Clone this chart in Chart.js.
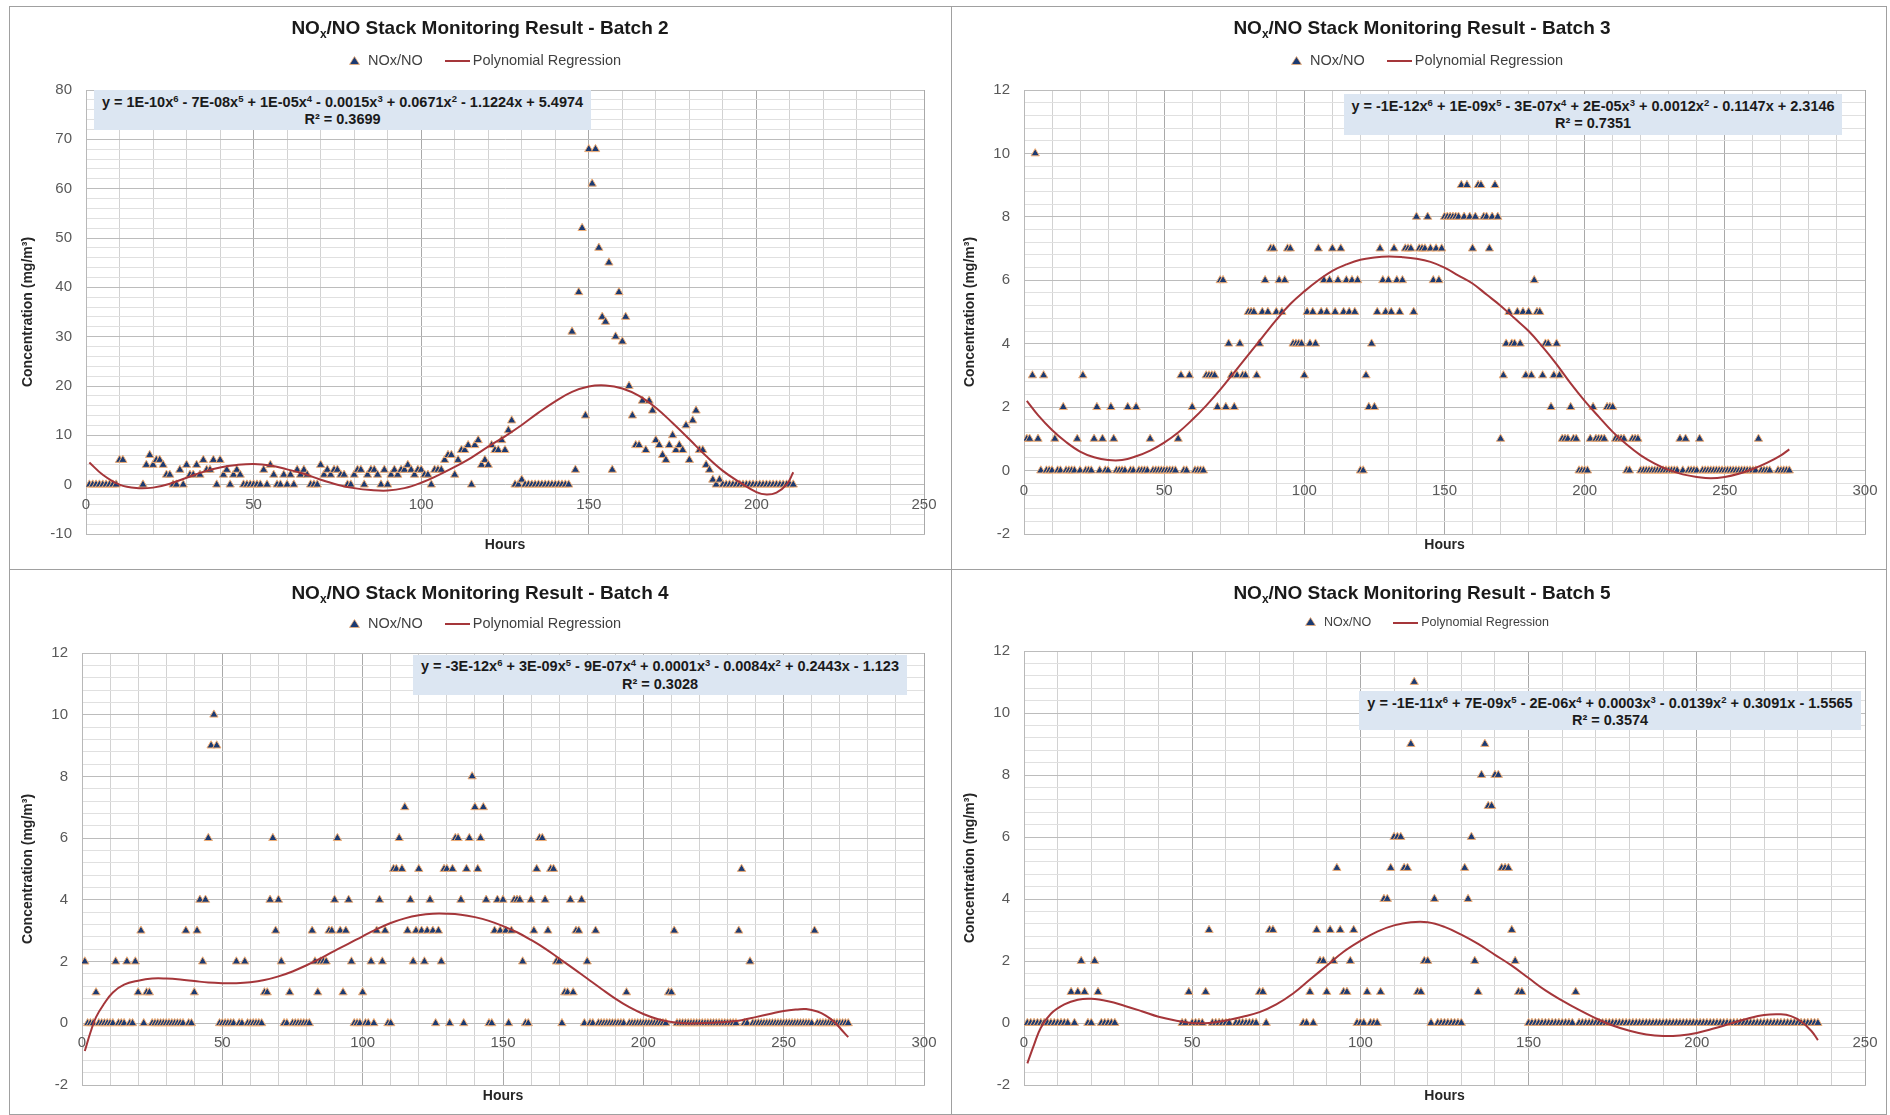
<!DOCTYPE html>
<html>
<head>
<meta charset="utf-8">
<script src="https://cdn.jsdelivr.net/npm/chart.js@4.4.1/dist/chart.umd.min.js"></script>
<style>
  body { margin: 0; background: #fff; width: 1890px; height: 1115px; overflow: hidden;
         font-family: "Liberation Sans", Arial, Helvetica, sans-serif; }
  .panel { position: absolute; outline: 1px solid #a0a0a0; outline-offset: -1px; }
  .panel canvas { position: absolute; left: 0; top: 0; }
  .ttl { position: absolute; left: 0; width: 942px; text-align: center; font-weight: bold;
         font-size: 19px; color: #1a1a1a; line-height: 22px; }
  .ttl sub { font-size: 12px; vertical-align: -4px; line-height: 0; }
  .leg { position: absolute; left: 0; width: 952px; text-align: center; color: #404040; white-space: nowrap; }
  .leg svg { vertical-align: 0px; margin-right: 8px; }
  .leg .ln { display: inline-block; width: 25px; height: 2px; background: #a5363a;
             vertical-align: middle; margin: 0 3px 0 22px; }
  .eq { position: absolute; background: #dce6f2; font-weight: bold; font-size: 14.5px; color: #1a1a1a;
        text-align: center; line-height: 17.5px; padding-top: 3.75px; box-sizing: border-box; white-space: nowrap; }
  .eq sup { font-size: 9.5px; vertical-align: 5px; line-height: 0; }
</style>
</head>
<body>
<script>
const NAVY = '#1b3a72';
const ORANGE = '#f0ae76';
const RED = '#a5363a';
const FONT = '"Liberation Sans", Arial, Helvetica, sans-serif';
Chart.defaults.font.family = FONT;

// hourly NOx/NO readings, index 0 = hour 1 (null = no reading)
const batch2Values = [
  0,0,0,0,0,0,0,0,0, 5,5, null,null,null,null,null, 0,
  4,6,4,5,5,4,2,2,0,0,3,0,
  4,2,2,4,2,5,3,3,5,0,5,2,
  3,0,2,3,2,0,0,0,0,0,0,3,
  0,4,2,0,0,2,0,2,0,3,2,3,
  2,0,0,0,4,2,3,2,3,3,2,2,
  0,0,2,3,3,0,2,3,3,2,0,3,
  0,2,3,2,3,3,4,3,2,3,
  3,2,2,0,3,3,3,5,6,6,2,5,7,7,8,0,8,9,4,5,4,8,7,7,9,7,11,13,
  0,0,1,0,0,0,0,0,0,0,0,0,0,0,0,0,0,
  31,3,39,52,14, 68,61,68,48,34, 33,45,3,30,39, 29,34,20,14,8,
  8,17,7,17,15, 9,8,6,5,8, 10,7,8,7,12, 5,13,15,7,7, 4,3,1,0,1,
  0,0,0,0,0,0,0,0,0,0,0,0,0,0,0,0,0,0,0,0,0,0
];
const batch3Values = [
  1,1,3,10,1,0,3,0,0,0,  1,0,0,2,0,0,0,0,1,0,  3,0,0,0,1,2,0,1,0,0,
  2,1,0,0,0,0,2,0,0,2,  0,0,0,0,1,0,0,0,0,0,  0,0,0,0,1,3,0,0,3,2,
  0,0,0,0,3,3,3,3,2,6,  6,2,4,3,2,3,4,3,3,5,  5,5,3,4,5,6,5,7,7,5,
  6,5,6,7,7,4,4,4,4,3,  5,4,5,4,7,5,6,5,6,7,  5,6,7,5,6,5,6,5,6,0,
  0,3,2,4,2,5,7,6,5,6,  5,7,6,5,6,7,7,7,5,8,  7,7,7,8,7,6,7,6,7,8,
  8,8,8,8,8,9,8,9,8,7,  8,9,9,8,8,7,8,9,8,1,  3,4,5,4,4,5,4,5,3,5,
  3,6,5,5,3,4,4,2,3,4,  3,1,1,1,2,1,1,0,0,0,  0,1,2,1,1,1,1,2,2,2,
  1,1,1,1,0,0,1,1,1,0,  0,0,0,0,0,0,0,0,0,0,  0,0,0,1,0,1,0,0,0,0,
  1,0,0,0,0,0,0,0,0,0,  0,0,0,0,0,0,0,0,0,0,  0,1,0,0,0,0,null,null,0,0,
  0,0,0
];
const batch4Values = [
  2,0,0,0,1,0,0,0,0,0,  0,2,0,0,0,2,0,0,2,1,  3,0,1,1,0,0,0,0,0,0,
  0,0,0,0,0,0,3,0,0,1,  3,4,2,4,6,9,10,9,0,0,  0,0,0,0,2,0,0,2,0,0,
  0,0,0,0,1,1,4,6,3,4,  2,0,0,1,0,0,0,0,0,0,  0,3,2,1,2,2,2,3,3,4,
  6,3,1,3,4,2,0,0,0,1,  0,0,2,0,3,4,2,3,0,0,  5,5,6,5,7,3,4,2,3,5,
  3,2,3,4,3,0,3,2,5,5,  0,5,6,6,4,0,5,6,8,7,  5,6,7,4,0,0,3,4,3,4,
  3,0,3,4,4,4,2,0,0,4,  3,5,6,6,4,3,5,5,2,2,  0,1,1,4,1,3,3,4,0,2,
  0,0,3,0,0,0,0,0,0,0,  0,0,0,1,0,0,0,0,0,0,  0,0,0,0,0,0,0,0,1,1,
  3,0,0,0,0,0,0,0,0,0,  0,0,0,0,0,0,0,0,0,0,  0,0,0,3,5,0,0,2,0,0,
  0,0,0,0,0,0,0,0,0,0,  0,0,0,0,0,0,0,0,0,0,  3,0,0,0,0,0,0,0,0,0,
  0,0,0
];
const batch5Values = [
  0,0,0,0,0,0,0,0,0,0,  0,0,0,1,0,1,2,1,0,0,  2,1,0,0,0,0,0,
  null,null,null,null,null,null,null,null,null,null,null,null,null,null,null,null,null,null,null,
  0,0,1,0,0,0,0,1,3,0,  0,0,0,0,0, null, 0,0,0,0,0,0,0,  1,1,0,3,3,
  null,null,null,null,null,null,null,null,
  0,0,1,0,3,2,2,1,3,2,  5,3,1,1,2,3,0,0,0,1,  0,0,0,1,4,4,5,6,6,6,
  5,5,9,11,1,1,2,2,0,4,  0,0,0,0,0,0,0,0,
  5,4,6,2,1,8,9,7,7,8,  8,5,5,5,3,2,1,1, null,
  0,0,0,0,0,0,0,0,0,0,0,0,0,0, 1,
  0,0,0,0,0,0,0,0,0,0,0,0,0,0,0,0,0,0,0,0,0,0,0,0,0,0,0,0,0,0,0,0,0,0,0,0,
  0,0,0,0,0,0,0,0,0,0,0,0,0,0,0,0,0,0,0,0,0,0,0,0,0,0,0,0,0,0,0,0,0,0,0,0
];

// 6th-order polynomial trend lines
const batch2FitHours  = [1,5,10,15,20,25,30,35,40,45,50,55,60,65,70,75,80,85,90,95,100,105,110,115,120,125,130,135,140,145,150,155,160,165,170,175,180,185,190,195,200,203,206,209,211];
const batch2FitValues = [4.5,2.0,0.0,-0.7,-0.6,0.2,1.4,2.6,3.5,4.0,4.2,3.9,3.1,2.2,1.0,0.0,-0.7,-1.1,-1.2,-0.7,0.4,1.9,3.6,5.5,7.7,9.8,12.1,14.6,16.9,18.8,19.9,20.1,19.5,18.0,15.6,12.5,9.2,5.8,2.8,0.5,-1.5,-2.0,-1.6,0.0,2.5];
const batch3FitHours  = [1,5,10,15,20,25,30,35,40,45,50,55,60,65,70,75,80,85,90,95,100,105,110,115,120,125,130,135,140,145,150,155,160,165,170,175,180,185,190,195,200,205,210,215,220,225,230,235,240,245,250,255,260,265,270,273];
const batch3FitValues = [2.2,1.75,1.28,0.9,0.6,0.42,0.33,0.33,0.45,0.63,0.88,1.2,1.6,2.05,2.55,3.1,3.65,4.2,4.75,5.25,5.65,6.0,6.3,6.5,6.65,6.72,6.75,6.73,6.68,6.58,6.4,6.15,5.9,5.55,5.2,4.8,4.4,3.9,3.35,2.75,2.2,1.7,1.22,0.82,0.48,0.22,0.02,-0.12,-0.2,-0.24,-0.2,-0.1,0.05,0.24,0.48,0.67];
const batch4FitHours  = [1,3,5,8,11,15,20,25,30,35,40,45,50,55,60,65,70,75,80,85,90,95,100,105,110,115,120,125,130,135,140,145,150,155,160,165,170,175,180,185,190,195,200,205,210,215,220,225,230,235,240,245,250,255,258,262,265,268,271,273];
const batch4FitValues = [-0.9,-0.3,0.2,0.65,1.0,1.25,1.38,1.45,1.45,1.42,1.37,1.32,1.3,1.3,1.33,1.4,1.52,1.68,1.88,2.1,2.35,2.58,2.82,3.05,3.25,3.4,3.5,3.55,3.55,3.52,3.44,3.32,3.15,2.95,2.7,2.42,2.1,1.78,1.45,1.12,0.8,0.52,0.3,0.14,0.04,0.0,0.0,0.02,0.05,0.1,0.2,0.3,0.4,0.45,0.46,0.38,0.25,0.05,-0.25,-0.45];
const batch5FitHours  = [1,3,5,8,12,16,20,25,30,35,40,45,50,55,60,65,70,75,80,85,90,95,100,105,110,115,120,125,130,135,140,145,150,155,160,165,170,175,180,185,190,195,200,205,210,215,220,225,228,231,234,236];
const batch5FitValues = [-1.3,-0.7,-0.15,0.3,0.6,0.75,0.78,0.7,0.55,0.38,0.2,0.08,0.0,0.0,0.08,0.2,0.35,0.6,0.95,1.4,1.85,2.3,2.65,2.95,3.15,3.25,3.25,3.1,2.85,2.55,2.2,1.85,1.45,1.05,0.72,0.42,0.15,-0.08,-0.25,-0.37,-0.42,-0.4,-0.32,-0.18,-0.02,0.14,0.26,0.28,0.22,0.05,-0.25,-0.55];

// axis ranges and tick labels
const batchNames  = ['Batch 2', 'Batch 3', 'Batch 4', 'Batch 5'];
const xMaxes      = [250, 300, 300, 250];
const yMins       = [-10, -2, -2, -2];
const yMaxes      = [80, 12, 12, 12];
const yMajorSteps = [10, 2, 2, 2];
const yMinorSteps = [2, 0.4, 0.4, 0.4];
const xLabelStep  = 50;

const equations = [
  'y = 1E-10x<sup>6</sup> - 7E-08x<sup>5</sup> + 1E-05x<sup>4</sup> - 0.0015x<sup>3</sup> + 0.0671x<sup>2</sup> - 1.1224x + 5.4974',
  'y = -1E-12x<sup>6</sup> + 1E-09x<sup>5</sup> - 3E-07x<sup>4</sup> + 2E-05x<sup>3</sup> + 0.0012x<sup>2</sup> - 0.1147x + 2.3146',
  'y = -3E-12x<sup>6</sup> + 3E-09x<sup>5</sup> - 9E-07x<sup>4</sup> + 0.0001x<sup>3</sup> - 0.0084x<sup>2</sup> + 0.2443x - 1.123',
  'y = -1E-11x<sup>6</sup> + 7E-09x<sup>5</sup> - 2E-06x<sup>4</sup> + 0.0003x<sup>3</sup> - 0.0139x<sup>2</sup> + 0.3091x - 1.5565'
];
const rSquared = ['0.3699', '0.7351', '0.3028', '0.3574'];

const allValues = [batch2Values, batch3Values, batch4Values, batch5Values];
const allFitHours = [batch2FitHours, batch3FitHours, batch4FitHours, batch5FitHours];
const allFitValues = [batch2FitValues, batch3FitValues, batch4FitValues, batch5FitValues];

// panel geometry (page pixels)
const layoutBoxes = [
  { left: 9,   top: 6,   w: 943, h: 564, area: { l: 77, r: 915, t: 84, b: 528 }, titleY: 11,  legendY: 46, legendSize: 14.5, eq: { l: 85,  t: 84,  w: 497, h: 40 }, hoursPad: 16.6 },
  { left: 951, top: 6,   w: 936, h: 564, area: { l: 73, r: 914, t: 84, b: 528 }, titleY: 11,  legendY: 46, legendSize: 14.5, eq: { l: 393, t: 88,  w: 498, h: 41 }, hoursPad: 16.6 },
  { left: 9,   top: 569, w: 943, h: 546, area: { l: 73, r: 915, t: 84, b: 516 }, titleY: 12.6, legendY: 46, legendSize: 14.5, eq: { l: 404, t: 85.5, w: 494, h: 40 }, hoursPad: 10 },
  { left: 951, top: 569, w: 936, h: 546, area: { l: 73, r: 914, t: 82, b: 516 }, titleY: 12.6, legendY: 46, legendSize: 12.5, eq: { l: 408, t: 122, w: 502, h: 39 }, hoursPad: 10 }
];

const near = (v, step) => Math.abs(v / step - Math.round(v / step)) < 1e-6;

// x tick labels sit just under the y = 0 line, as in Excel
const zeroAxisLabels = {
  id: 'zeroAxisLabels',
  beforeDatasetsDraw(chart, args, opts) {
    const { ctx, scales: { x, y } } = chart;
    const y0 = y.getPixelForValue(0);
    ctx.save();
    ctx.font = '15px ' + FONT;
    ctx.fillStyle = '#595959';
    ctx.textAlign = 'center';
    ctx.textBaseline = 'middle';
    for (let v = 0; v <= opts.max; v += opts.step) {
      ctx.fillText(String(v), x.getPixelForValue(v), y0 + 20);
    }
    ctx.restore();
  }
};

layoutBoxes.forEach((box, i) => {
  const panel = document.createElement('div');
  panel.className = 'panel';
  Object.assign(panel.style, { left: box.left + 'px', top: box.top + 'px', width: box.w + 'px', height: box.h + 'px' });
  document.body.appendChild(panel);

  const canvas = document.createElement('canvas');
  canvas.width = box.w; canvas.height = box.h;
  canvas.style.width = box.w + 'px'; canvas.style.height = box.h + 'px';
  panel.appendChild(canvas);

  const title = document.createElement('div');
  title.className = 'ttl';
  title.style.top = box.titleY + 'px';
  title.innerHTML = 'NO<sub>x</sub>/NO Stack Monitoring Result - ' + batchNames[i];
  panel.appendChild(title);

  const leg = document.createElement('div');
  leg.className = 'leg';
  leg.style.top = box.legendY + 'px';
  leg.style.fontSize = box.legendSize + 'px';
  leg.innerHTML = '<svg width="11" height="9"><polygon points="5.5,0.5 10.5,8.5 0.5,8.5" fill="' + NAVY +
    '" stroke="' + ORANGE + '" stroke-width="0.8"/></svg>NOx/NO<span class="ln"></span>Polynomial Regression';
  panel.appendChild(leg);

  const eq = document.createElement('div');
  eq.className = 'eq';
  Object.assign(eq.style, { left: box.eq.l + 'px', top: box.eq.t + 'px', width: box.eq.w + 'px', height: box.eq.h + 'px' });
  eq.innerHTML = equations[i] + '<br>R² = ' + rSquared[i];
  panel.appendChild(eq);

  const points = [];
  allValues[i].forEach((v, k) => { if (v !== null) points.push({ x: k + 1, y: v }); });
  const fit = allFitHours[i].map((h, k) => ({ x: h, y: allFitValues[i][k] }));

  const yMajor = yMajorSteps[i];
  new Chart(canvas, {
    type: 'scatter',
    data: {
      datasets: [
        {
          label: 'Polynomial Regression',
          data: fit,
          showLine: true,
          borderColor: RED,
          borderWidth: 2,
          pointRadius: 0,
          tension: 0.4,
          order: 1
        },
        {
          label: 'NOx/NO',
          data: points,
          pointStyle: 'triangle',
          pointRadius: 4.8,
          pointBackgroundColor: NAVY,
          pointBorderColor: ORANGE,
          pointBorderWidth: 1,
          order: 2
        }
      ]
    },
    options: {
      responsive: false,
      animation: false,
      devicePixelRatio: 1,
      layout: { padding: { top: box.area.t, right: box.w - box.area.r, left: 0, bottom: 0 } },
      plugins: {
        legend: { display: false },
        tooltip: { enabled: false },
        zeroAxisLabels: { max: xMaxes[i], step: xLabelStep }
      },
      scales: {
        x: {
          type: 'linear',
          min: 0,
          max: xMaxes[i],
          ticks: { display: false, stepSize: 10, maxTicksLimit: 1000 },
          grid: { drawTicks: false, color: c => near(c.tick.value, 50) ? '#a9a9a9' : '#d2d2d2' },
          border: { color: '#b8b8b8' },
          title: { display: true, text: 'Hours', color: '#262626', font: { size: 14, weight: 'bold' },
                   padding: { top: 0, bottom: box.hoursPad } },
          afterFit: s => { s.height = box.h - box.area.b; }
        },
        y: {
          min: yMins[i],
          max: yMaxes[i],
          ticks: {
            stepSize: yMinorSteps[i],
            maxTicksLimit: 1000,
            autoSkip: false,
            padding: 14,
            color: '#595959',
            font: { size: 15 },
            callback: v => near(v, yMajor) ? String(Math.round(v)) : ''
          },
          grid: { drawTicks: false, color: c => near(c.tick.value, yMajor) ? '#bcbcbc' : '#e0e0e0' },
          border: { color: '#b8b8b8' },
          title: { display: true, text: 'Concentration (mg/m³)', color: '#262626', font: { size: 14, weight: 'bold' },
                   padding: { top: 11, bottom: 0 } },
          afterFit: s => { s.width = box.area.l; }
        }
      }
    },
    plugins: [zeroAxisLabels]
  });
});
</script>
</body>
</html>
